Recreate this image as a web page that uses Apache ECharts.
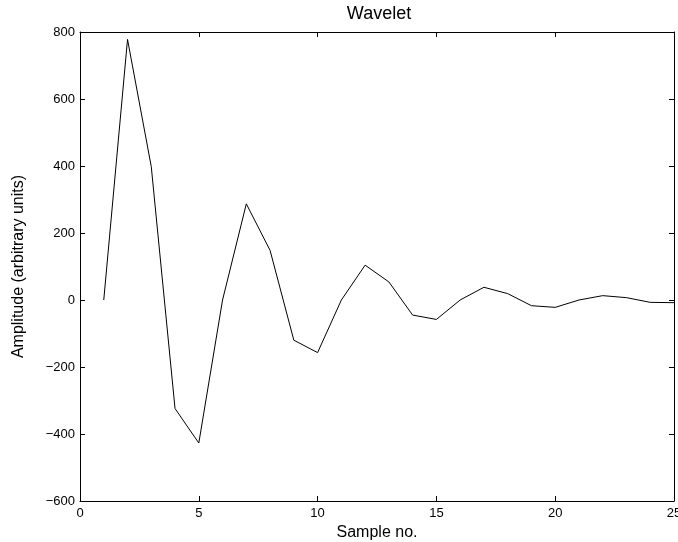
<!DOCTYPE html>
<html>
<head>
<meta charset="utf-8">
<script src="https://cdn.jsdelivr.net/npm/echarts@6/dist/echarts.min.js"></script>
<style>
  html, body { margin: 0; padding: 0; background: #fff; }
  #chart { width: 678px; height: 542px; }
</style>
</head>
<body>
<div id="chart"></div>
<script>
// sample numbers and amplitudes
const samples = [1, 2, 3, 4, 5, 6, 7, 8, 9, 10, 11, 12, 13, 14, 15, 16, 17, 18, 19, 20, 21, 22, 23, 24, 25]
const amplitude = [0, 778, 398, -324, -427, 0, 287, 148, -120, -157, 0, 104, 54, -45, -58, 0, 38, 19, -17, -22, 0, 13, 7, -7, -8]

const fontFamily = '"Liberation Sans", Arial, Helvetica, sans-serif'

const myChart = echarts.init(document.getElementById('chart'))

const axisLine = { show: true, onZero: false, lineStyle: { color: '#000', width: 1 } }
const axisTick = { show: true, inside: true, length: 5, lineStyle: { color: '#000', width: 1 } }
const minusSign = v => String(v).replace('-', '\u2212')

const option = {
    animation: false,
    title: {
        text: 'Wavelet',
        left: 374,
        top: 0,
        textAlign: 'center',
        textStyle: { fontFamily, fontSize: 18, fontWeight: 'normal', color: '#000' }
    },
    grid: {
        left: 80,
        top: 32,
        right: 4,
        bottom: 41,
        outerBoundsMode: 'none'
    },
    xAxis: [
        {
            type: 'value',
            min: 0,
            max: 25,
            interval: 5,
            position: 'bottom',
            name: 'Sample no.',
            nameLocation: 'middle',
            nameGap: 21,
            nameTextStyle: { fontFamily, fontSize: 16, color: '#000' },
            axisLine,
            axisTick,
            axisLabel: { fontFamily, fontSize: 13, color: '#000', margin: 6 },
            splitLine: { show: false }
        },
        {
            type: 'value',
            min: 0,
            max: 25,
            interval: 5,
            position: 'top',
            axisLine,
            axisTick,
            axisLabel: { show: false },
            splitLine: { show: false }
        }
    ],
    yAxis: [
        {
            type: 'value',
            min: -600,
            max: 800,
            interval: 200,
            position: 'left',
            name: 'Amplitude (arbitrary units)',
            nameLocation: 'middle',
            nameGap: 53,
            nameTextStyle: { fontFamily, fontSize: 16, color: '#000' },
            axisLine,
            axisTick,
            axisLabel: { fontFamily, fontSize: 13, color: '#000', margin: 5, formatter: minusSign },
            splitLine: { show: false }
        },
        {
            type: 'value',
            min: -600,
            max: 800,
            interval: 200,
            position: 'right',
            axisLine,
            axisTick,
            axisLabel: { show: false },
            splitLine: { show: false }
        }
    ],
    series: [
        {
            type: 'line',
            data: samples.map((s, i) => [s, amplitude[i]]),
            showSymbol: false,
            lineStyle: { color: '#000', width: 1 },
            clip: true
        }
    ]
}

myChart.setOption(option)
</script>
</body>
</html>
